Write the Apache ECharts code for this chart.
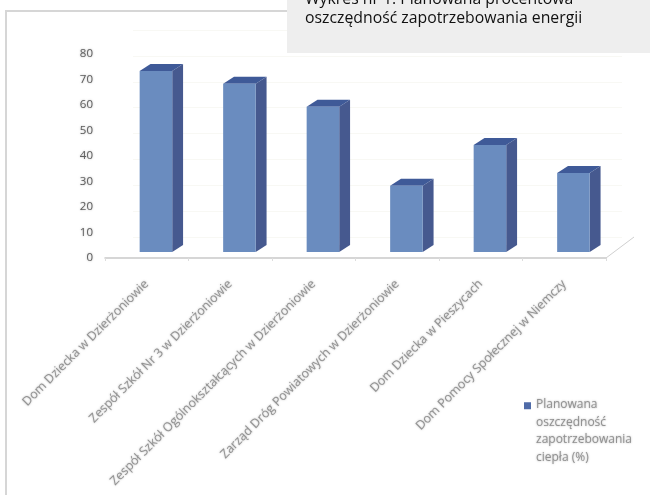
<!DOCTYPE html>
<html><head><meta charset="utf-8">
<style>html,body{margin:0;padding:0;background:#fff}#c{width:650px;height:495px}</style>
<script src="https://cdn.jsdelivr.net/npm/echarts@6/dist/echarts.min.js"></script>
</head><body><div id="c"></div>
<script>
const categories = ["Dom Dziecka w Dzierżoniowie","Zespół Szkół Nr 3 w Dzierżoniowie","Zespół Szkół Ogólnokształcących w Dzierżoniowie","Zarząd Dróg Powiatowych w Dzierżoniowie","Dom Dziecka w Pieszycach","Dom Pomocy Społecznej w Niemczy"];
const values = [71,66,57,26,42,31];
const seriesName = "Planowana\noszczędność\nzapotrzebowania\nciepła (%)";
const yTicks = {min:0,max:80,interval:10};
const titleLines = "Wykres nr 1. Planowana procentowa\noszczędność zapotrzebowania energii";

const chart = echarts.init(document.getElementById('c'));
const FRONT='#6A8CBF', SIDE='#46598F', TOP='#3F5A98';
const soft={textShadowColor:'rgba(120,120,120,0.6)',textShadowBlur:2};
function renderBar(params, api){
  const i=api.value(0), v=api.value(1);
  const top=api.coord([i,v]), base=api.coord([i,0]);
  const band=api.size([1,0])[0];
  const w=band*0.39, ox=band*0.11, lift=6, dx=band*0.13, dy=7;
  const x0=top[0]+ox-w/2, x1=x0+w, yT=top[1]-lift, yB=base[1]-lift;
  return {type:'group',children:[
    {type:'polygon',shape:{points:[[x1,yT],[x1+dx,yT-dy],[x1+dx,yB-dy],[x1,yB]]},style:{fill:SIDE}},
    {type:'polygon',shape:{points:[[x0,yT],[x0+dx,yT-dy],[x1+dx,yT-dy],[x1,yT]]},style:{fill:TOP}},
    {type:'rect',shape:{x:x0,y:yT,width:w,height:yB-yT},style:{fill:FRONT}}
  ]};
}
chart.setOption({
  animation:false,
  backgroundColor:'#fff',
  grid:[
    {left:105,right:44,top:54,bottom:237},
    {left:133,right:28,top:30,bottom:258}
  ],
  xAxis:[
    {type:'category',data:categories,gridIndex:0,
     axisLine:{lineStyle:{color:'#c9c9c9',width:1.5}},
     axisTick:{show:true,length:3,lineStyle:{color:'#dddddd'}},
     axisLabel:{interval:0,rotate:45,margin:24,fontFamily:'Open Sans',fontSize:12.4,color:'#929292',...soft}},
    {type:'category',data:categories,gridIndex:1,show:false}
  ],
  yAxis:[
    {type:'value',gridIndex:0,...yTicks,
     axisLine:{show:false},axisTick:{show:false},splitLine:{show:false},
     axisLabel:{margin:12,fontFamily:'Open Sans',fontSize:11.5,color:'#5e5e5e',...soft}},
    {type:'value',gridIndex:1,...yTicks,
     axisLine:{show:false},axisTick:{show:false},axisLabel:{show:false},
     splitLine:{lineStyle:{color:'#f8f8f4',width:1}}}
  ],
  legend:{
    left:519,top:391,orient:'vertical',itemWidth:7,itemHeight:66,itemGap:0,selectedMode:false,
    data:[{name:seriesName,icon:'path://M0 0H8V8H0Z M0 66L0.01 66L0 66Z',itemStyle:{color:'#4F6BA8'}}],
    textStyle:{fontFamily:'Open Sans',fontSize:12,lineHeight:17.6,color:'#929292',...soft}
  },
  graphic:[
    {type:'polyline',silent:true,z:1,shape:{points:[[6,495],[6,11],[290,11]]},style:{stroke:'#d6d6d6',lineWidth:2,fill:null}},
    {type:'line',silent:true,z:1,shape:{x1:606,y1:258,x2:634,y2:237},style:{stroke:'#d0d0d0',lineWidth:1}},
    {type:'rect',z:100,shape:{x:287,y:0,width:363,height:53},style:{fill:'#eeeeee'}},
    {type:'text',z:101,left:305,top:-10,style:{text:titleLines,fontFamily:'Open Sans',fontSize:15.8,lineHeight:19,fill:'#111'}}
  ],
  series:[{type:'custom',name:seriesName,xAxisIndex:0,yAxisIndex:0,coordinateSystem:'cartesian2d',
    renderItem:renderBar,encode:{x:0,y:1},itemStyle:{color:'#4F6BA8'},
    data:values.map((v,i)=>[i,v])}]
});
</script></body></html>
